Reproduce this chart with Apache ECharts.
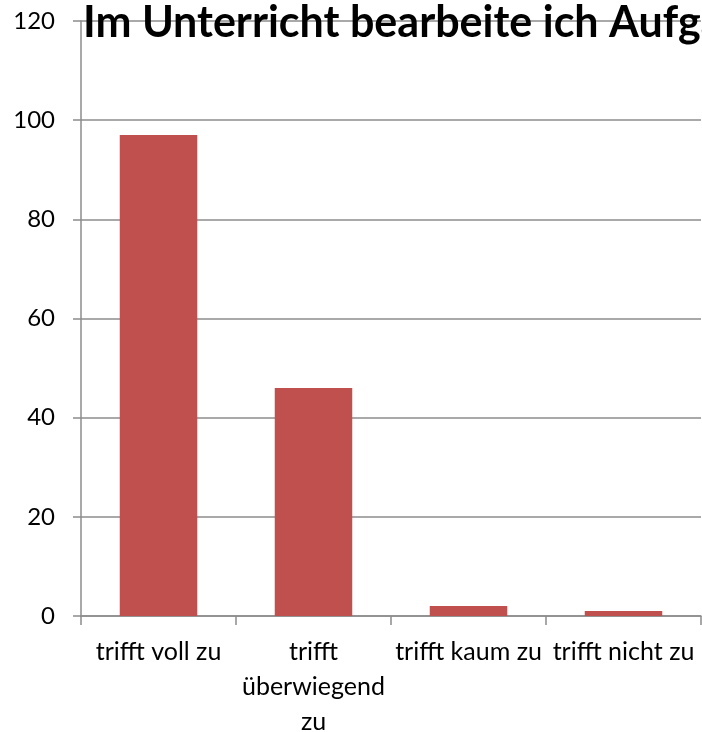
<!DOCTYPE html>
<html>
<head>
<meta charset="utf-8">
<script src="https://cdn.jsdelivr.net/npm/echarts@6/dist/echarts.min.js"></script>
<style>
  html, body { margin: 0; padding: 0; background: #fff; }
  #chart { width: 702px; height: 732px; }
</style>
</head>
<body>
<div id="chart"></div>
<script>
// Antworten
const categories = ['trifft voll zu', 'trifft\nüberwiegend\nzu', 'trifft kaum zu', 'trifft nicht zu'];
const values = [97, 46, 2, 1];
const titleText = 'Im Unterricht bearbeite ich Aufgaben';

const font = 'Lato, "Open Sans", sans-serif';
const lineColor = '#8c8c8c';

const chart = echarts.init(document.getElementById('chart'), null, { renderer: 'canvas' });
chart.setOption({
    animation: false,
    title: {
        text: titleText,
        left: 78,
        top: -3,
        textStyle: {
            fontFamily: font,
            fontSize: 43,
            fontWeight: 'bold',
            color: '#000'
        }
    },
    grid: {
        left: 81,
        right: 1,
        top: 21,
        bottom: 116,
        containLabel: false,
        outerBoundsMode: 'none'
    },
    xAxis: {
        type: 'category',
        data: categories,
        axisLine: { lineStyle: { color: lineColor, width: 1.5 } },
        axisTick: { show: true, length: 9, alignWithLabel: false, lineStyle: { color: lineColor, width: 1.5 } },
        axisLabel: {
            interval: 0,
            margin: 18,
            fontFamily: font,
            fontSize: 25,
            lineHeight: 35,
            color: '#000'
        }
    },
    yAxis: {
        type: 'value',
        min: 0,
        max: 120,
        interval: 20,
        axisLine: { show: true, lineStyle: { color: lineColor, width: 1.5 } },
        axisTick: { show: true, length: 8, lineStyle: { color: lineColor, width: 1.5 } },
        splitLine: { lineStyle: { color: lineColor, width: 1.5 } },
        axisLabel: {
            margin: 26,
            fontFamily: font,
            fontSize: 24,
            color: '#000'
        }
    },
    series: [{
        type: 'bar',
        data: values,
        barWidth: '50%',
        itemStyle: { color: '#C0504D' }
    }]
});
</script>
</body>
</html>
